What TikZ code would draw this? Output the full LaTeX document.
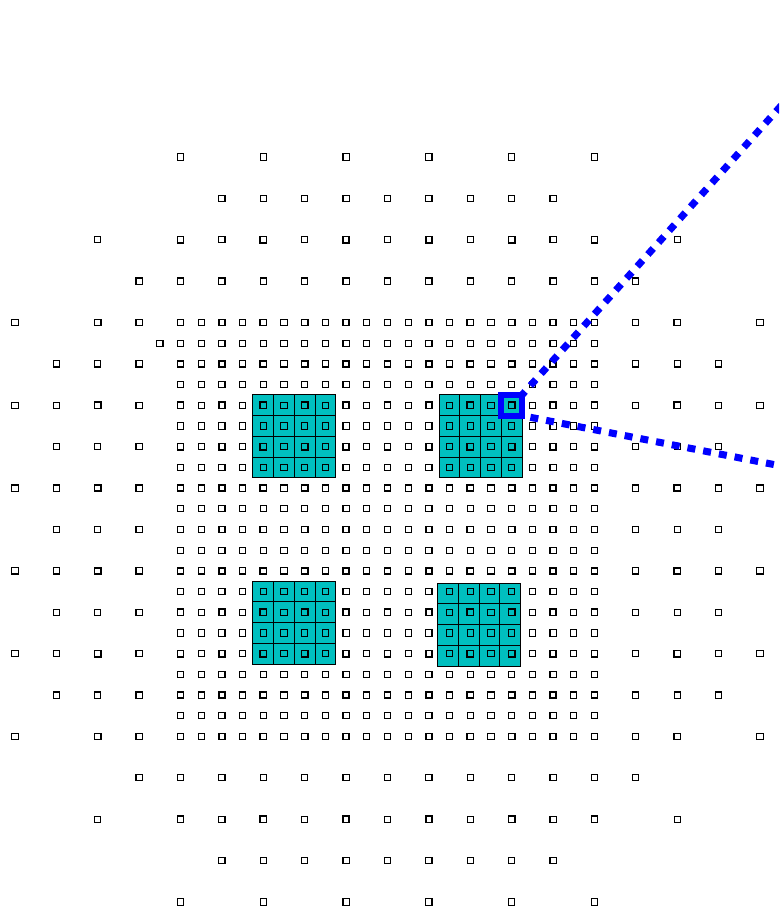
\documentclass[tikz,border=0pt]{standalone}
\usepackage{xcolor}
\definecolor{cellteal}{RGB}{0,191,191}
\begin{document}
\begin{tikzpicture}[x=0.75pt,y=-0.75pt,
  cellbox/.style={fill=cellteal,draw=black,line width=0.75pt},
  mkthin/.style={draw=black,line width=0.85pt},
  mkbold/.style={draw=black,line width=1.2pt},
  hlbox/.style={draw=blue,line width=4.6pt,minimum size=15.52pt,inner sep=0pt,outer sep=0pt},
  zoomline/.style={draw=blue,line width=5.3pt,dash pattern=on 6pt off 6pt}]
\fill[white] (0,0) rectangle (779,909);
\useasboundingbox (0,0) rectangle (779,909);
\begin{scope}
\clip (0,0) rectangle (779,909);
% teal 4x4 blocks
\foreach \ci/\cj/\dx/\dy in {12/12/0/0,21/12/0/0,12/21/0/0,21/21/-1.5/2}{
  \foreach \u in {0,1,2,3}{
    \foreach \v in {0,1,2,3}{
      \pgfmathsetmacro\cx{15+20.694*(\ci+\u)+\dx}
      \pgfmathsetmacro\cy{157+20.694*(\cj+\v)+\dy}
      \path[cellbox] (\cx-10.347,\cy-10.347) rectangle (\cx+10.347,\cy+10.347);
    }}}
% sample markers
\foreach \i in {0,...,36}{
  \foreach \j in {0,...,36}{
    \pgfmathtruncatemacro\sA{(\i>=8)&&(\i<=28)&&(\j>=8)&&(\j<=28)}
    \pgfmathtruncatemacro\sS{(\i==7)&&(\j==9)}
    \pgfmathtruncatemacro\sB{(mod(\i,2)==0)&&(mod(\j,2)==0)&&((\i/2-9)*(\i/2-9)+(\j/2-9)*(\j/2-9)<=80.5)}
    \pgfmathtruncatemacro\sC{(mod(\i,4)==0)&&(mod(\j,4)==0)&&((\i/4-4.5)*(\i/4-4.5)+(\j/4-4.5)*(\j/4-4.5)<=30)}
    \pgfmathtruncatemacro\cnt{\sA+\sS+\sB+\sC}
    \pgfmathsetmacro\px{15+20.694*\i}
    \pgfmathsetmacro\py{157+20.694*\j}
    \ifnum\cnt=1 \draw[mkthin] (\px-3.1,\py-3.1) rectangle (\px+3.1,\py+3.1); \fi
    \ifnum\cnt>1 \draw[mkbold] (\px-3.1,\py-3.1) rectangle (\px+3.1,\py+3.1); \fi
  }}
% highlighted cell and zoom lines
\node[hlbox] (hl) at (511.66,405.33) {};
\coordinate (endA) at (800,84.6);
\coordinate (endB) at (800,469.6);
\draw[zoomline,dash phase=2.5pt] (hl.north east) -- (endA);
\draw[zoomline,dash phase=5.6pt] (hl.south east) -- (endB);
\end{scope}
\end{tikzpicture}
\end{document}
